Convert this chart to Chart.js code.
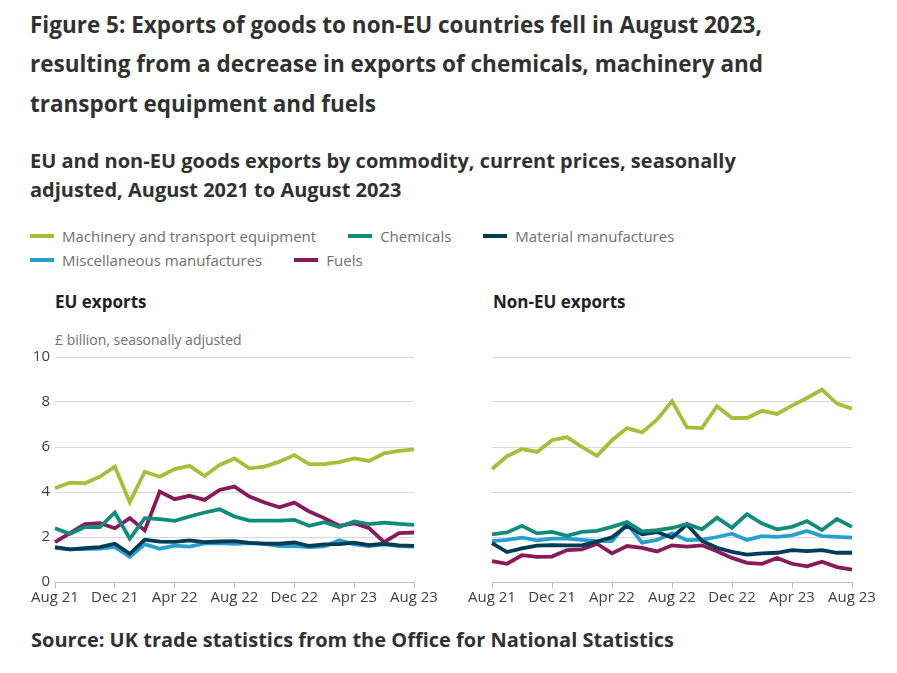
<!DOCTYPE html>
<html>
<head>
<meta charset="utf-8">
<script src="https://cdn.jsdelivr.net/npm/chart.js@4.4.1/dist/chart.umd.min.js"></script>
<style>
  body { margin: 0; background: #fff; font-family: "Open Sans", sans-serif; }
  #page { position: relative; width: 897px; height: 673px; overflow: hidden; }
  .title { position: absolute; left: 30px; top: 4.5px; width: 867px; font-size: 22.5px; font-weight: 700; line-height: 39.5px; color: #323132; white-space: nowrap; }
  .subtitle { position: absolute; left: 30px; top: 146px; width: 867px; font-size: 20px; font-weight: 700; line-height: 29px; color: #323132; white-space: nowrap; }
  .legend { position: absolute; left: 30px; top: 224px; width: 700px; display: flex; flex-wrap: wrap; column-gap: 32px; font-size: 15px; line-height: 24px; color: #707070; }
  .legend span.item { display: flex; align-items: center; }
  .legend i { display: inline-block; width: 24px; height: 4px; margin-right: 8px; }
  .panel { position: absolute; font-size: 17px; font-weight: 700; line-height: 20px; color: #222; }
  .units { position: absolute; left: 55px; top: 331px; font-size: 14px; line-height: 18px; color: #707070; }
  .source { position: absolute; left: 31px; top: 626px; font-size: 20px; font-weight: 700; line-height: 27px; color: #323132; white-space: nowrap; }
  canvas { position: absolute; }
</style>
</head>
<body>
<div id="page">
  <div class="title">Figure 5: Exports of goods to non-EU countries fell in August 2023,<br>resulting from a decrease in exports of chemicals, machinery and<br>transport equipment and fuels</div>
  <div class="subtitle">EU and non-EU goods exports by commodity, current prices, seasonally<br>adjusted, August 2021 to August 2023</div>
  <div class="legend" id="legend"></div>
  <div class="panel" style="left:55px; top:292px;">EU exports</div>
  <div class="panel" style="left:493px; top:292px;">Non-EU exports</div>
  <div class="units">£ billion, seasonally adjusted</div>
  <canvas id="euChart" width="440" height="277" style="left:0px; top:340px;"></canvas>
  <canvas id="nonEuChart" width="420" height="277" style="left:460px; top:340px;"></canvas>
  <div class="source">Source: UK trade statistics from the Office for National Statistics</div>
</div>
<script>
const months = [
  "Aug 21", "Sep 21", "Oct 21", "Nov 21", "Dec 21", "Jan 22", "Feb 22", "Mar 22",
  "Apr 22", "May 22", "Jun 22", "Jul 22", "Aug 22", "Sep 22", "Oct 22", "Nov 22",
  "Dec 22", "Jan 23", "Feb 23", "Mar 23", "Apr 23", "May 23", "Jun 23", "Jul 23", "Aug 23",
];
const yTicks = [0, 2, 4, 6, 8, 10];

const seriesNames = [
  "Machinery and transport equipment",
  "Chemicals",
  "Material manufactures",
  "Miscellaneous manufactures",
  "Fuels",
];
const seriesColors = ["#a8bd3a", "#118c7b", "#003c57", "#27a0cc", "#871a5b"];

// EU exports, £ billion
const euMachinery = [4.17, 4.42, 4.39, 4.68, 5.13, 3.55, 4.9, 4.68, 5.02, 5.16, 4.71, 5.2, 5.49, 5.05, 5.13, 5.35, 5.64, 5.24, 5.24, 5.33, 5.49, 5.38, 5.72, 5.83, 5.89];
const euChemicals = [2.39, 2.14, 2.44, 2.44, 3.09, 1.92, 2.84, 2.79, 2.72, 2.91, 3.09, 3.23, 2.91, 2.73, 2.73, 2.73, 2.76, 2.5, 2.66, 2.44, 2.69, 2.57, 2.64, 2.58, 2.54];
const euMaterial = [1.55, 1.45, 1.5, 1.55, 1.7, 1.25, 1.88, 1.79, 1.78, 1.85, 1.77, 1.8, 1.82, 1.74, 1.71, 1.7, 1.76, 1.6, 1.67, 1.68, 1.75, 1.64, 1.7, 1.63, 1.61];
const euMisc = [1.52, 1.45, 1.47, 1.48, 1.56, 1.12, 1.68, 1.48, 1.62, 1.57, 1.72, 1.73, 1.7, 1.73, 1.69, 1.6, 1.6, 1.55, 1.58, 1.85, 1.67, 1.6, 1.67, 1.6, 1.57];
const euFuels = [1.77, 2.17, 2.57, 2.61, 2.39, 2.84, 2.29, 4.02, 3.68, 3.83, 3.65, 4.09, 4.24, 3.8, 3.53, 3.32, 3.53, 3.13, 2.84, 2.5, 2.61, 2.39, 1.77, 2.17, 2.2];

// Non-EU exports, £ billion
const nonEuMachinery = [5.02, 5.59, 5.91, 5.78, 6.3, 6.44, 6.0, 5.61, 6.3, 6.84, 6.65, 7.21, 8.03, 6.87, 6.84, 7.81, 7.29, 7.29, 7.61, 7.47, 7.84, 8.18, 8.55, 7.93, 7.7];
const nonEuChemicals = [2.12, 2.2, 2.5, 2.16, 2.23, 2.05, 2.23, 2.27, 2.45, 2.66, 2.25, 2.3, 2.4, 2.58, 2.34, 2.86, 2.41, 3.02, 2.6, 2.34, 2.45, 2.71, 2.31, 2.8, 2.45];
const nonEuMaterial = [1.73, 1.33, 1.49, 1.62, 1.64, 1.63, 1.63, 1.8, 1.99, 2.5, 2.12, 2.22, 1.97, 2.56, 1.82, 1.52, 1.34, 1.22, 1.27, 1.3, 1.42, 1.37, 1.42, 1.3, 1.3];
const nonEuMisc = [1.82, 1.87, 1.97, 1.85, 1.93, 1.93, 1.87, 1.82, 1.82, 2.6, 1.75, 1.87, 2.16, 1.86, 1.88, 2.0, 2.15, 1.87, 2.04, 2.01, 2.07, 2.27, 2.04, 2.01, 1.97];
const nonEuFuels = [0.93, 0.81, 1.19, 1.12, 1.13, 1.42, 1.45, 1.7, 1.27, 1.6, 1.52, 1.36, 1.63, 1.57, 1.63, 1.37, 1.07, 0.85, 0.81, 1.07, 0.81, 0.7, 0.9, 0.66, 0.55];

// html legend
const legendEl = document.getElementById("legend");
seriesNames.forEach((name, i) => {
  const item = document.createElement("span");
  item.className = "item";
  item.innerHTML = '<i style="background:' + seriesColors[i] + '"></i>' + name;
  legendEl.appendChild(item);
});

const tickFont = { family: "'Open Sans', sans-serif", size: 15 };

function makeChart(canvasId, seriesData, showYLabels, padding) {
  const canvas = document.getElementById(canvasId);
  return new Chart(canvas, {
    type: "line",
    data: {
      labels: months,
      datasets: seriesData.map((data, i) => ({
        label: seriesNames[i],
        data,
        borderColor: seriesColors[i],
        backgroundColor: seriesColors[i],
        borderWidth: 3.8,
        pointRadius: 0,
        tension: 0,
        borderJoinStyle: "miter",
      })),
    },
    options: {
      responsive: false,
      animation: false,
      layout: { padding },
      plugins: { legend: { display: false }, tooltip: { enabled: false } },
      scales: {
        x: {
          afterFit: (scale) => { scale.height = 35; },
          border: { color: "#bebebe", width: 1 },
          grid: {
            drawOnChartArea: false,
            drawTicks: true,
            tickLength: 6,
            tickColor: (ctx) => (ctx.index % 4 === 0 ? "#bebebe" : "rgba(0,0,0,0)"),
          },
          ticks: {
            autoSkip: false,
            maxRotation: 0,
            padding: 1,
            color: "#414042",
            font: tickFont,
            callback: function (value, index) {
              return index % 4 === 0 ? this.getLabelForValue(value) : "";
            },
          },
        },
        y: {
          min: 0,
          max: 10,
          afterFit: (scale) => { scale.width = showYLabels ? 55 : 0; },
          afterBuildTicks: (scale) => { scale.ticks = yTicks.map((v) => ({ value: v })); },
          border: { display: false },
          grid: { color: "#d9d9d9", drawTicks: false, lineWidth: 1 },
          ticks: {
            display: showYLabels,
            padding: 5,
            color: "#414042",
            font: tickFont,
          },
        },
      },
    },
  });
}

makeChart("euChart", [euMachinery, euChemicals, euMaterial, euMisc, euFuels], true,
  { top: 17, right: 26, left: 0, bottom: 0 });
makeChart("nonEuChart", [nonEuMachinery, nonEuChemicals, nonEuMaterial, nonEuMisc, nonEuFuels], false,
  { top: 17, right: 28, left: 32, bottom: 0 });
</script>
</body>
</html>
